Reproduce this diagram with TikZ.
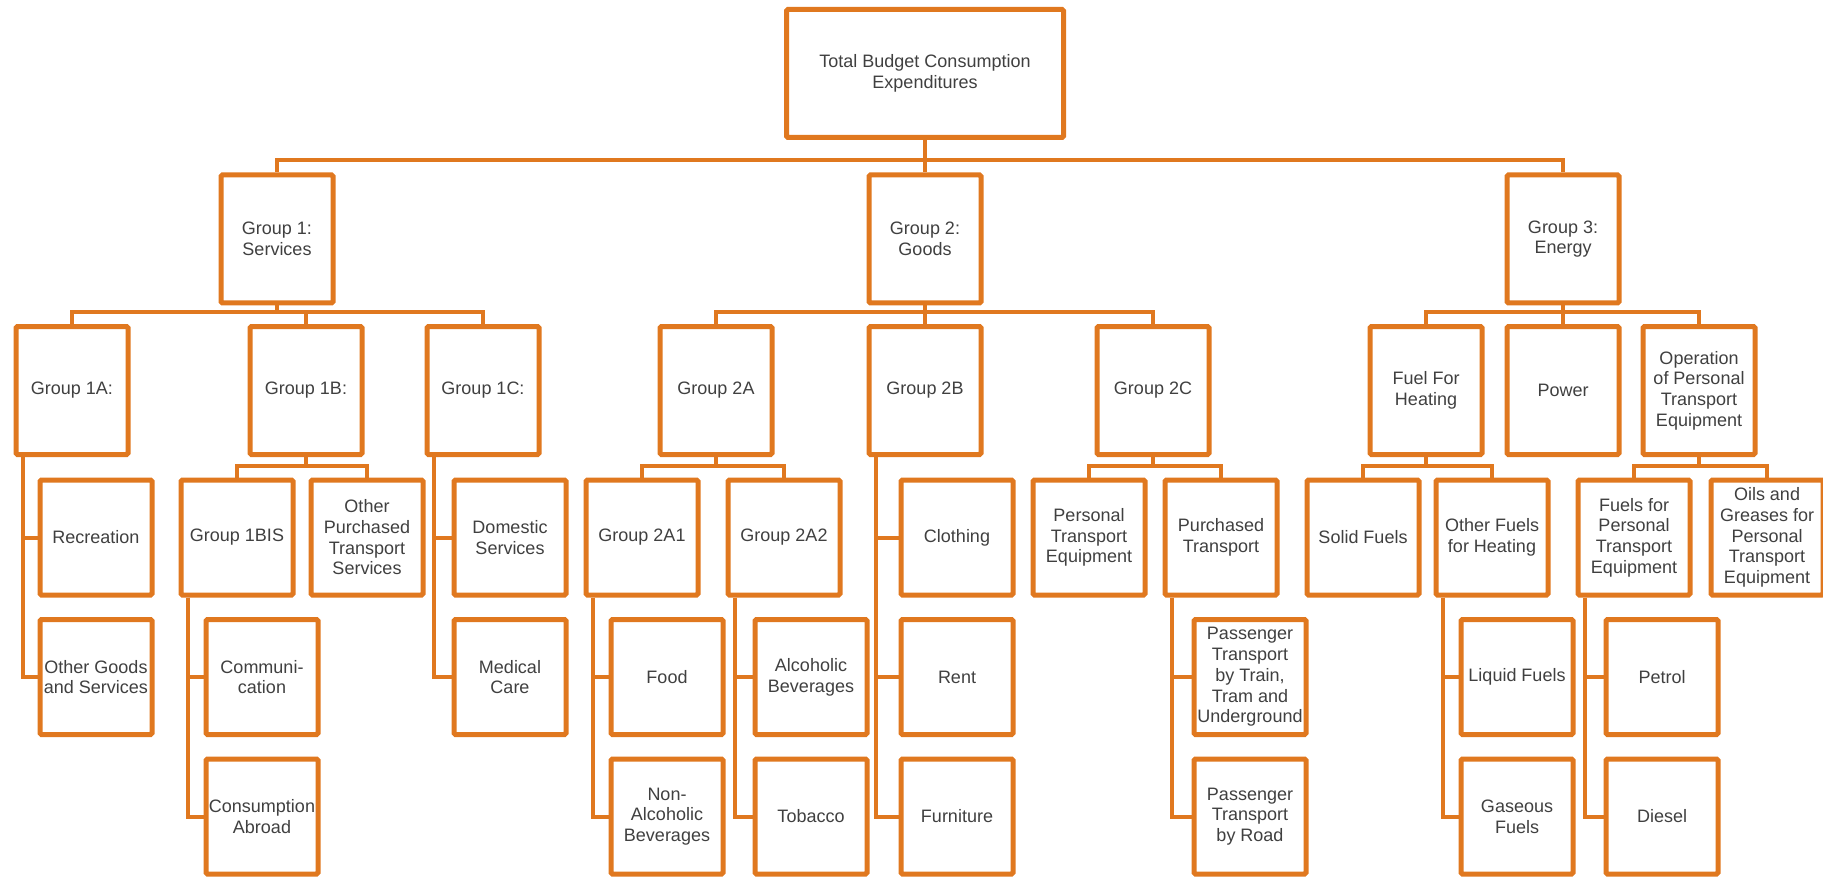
\documentclass[tikz,border=0pt]{standalone}
\usepackage{fontspec}
\setmainfont{Liberation Sans}
\usepackage{tikz}
\usetikzlibrary{calc}
\definecolor{BCOrange}{HTML}{E0781F}
\definecolor{BCText}{HTML}{404040}
\tikzset{
  link/.style={BCOrange,line width=4pt},
  box/.style={draw=BCOrange,line width=5pt,fill=white,rounded corners=1.5pt,
              minimum width=112pt,minimum height=128pt,inner sep=1pt,
              text=BCText,align=center,font=\fontsize{18}{20.7}\selectfont},
  boxlow/.style={box,minimum height=115pt},
  topbox/.style={box,minimum width=277pt},
}
\begin{document}
\begin{tikzpicture}[x=1pt,y=-1pt]
    \useasboundingbox (0,0) rectangle (1823,877);
    % top and groups
    \node[topbox] (top) at (925,73.5) {Total Budget Consumption\\Expenditures};
    \node[box] (g1) at (277,239) {Group 1:\\Services};
    \node[box] (g2) at (925,239) {Group 2:\\Goods};
    \node[box] (g3) at (1563,239) {Group 3:\\Energy};
    % subgroups
    \node[box] (g1a) at (72,390.5) {Group 1A:};
    \node[box] (g1b) at (306,390.5) {Group 1B:};
    \node[box] (g1c) at (483,390.5) {Group 1C:};
    \node[box] (g2a) at (716,390.5) {Group 2A};
    \node[box] (g2b) at (925,390.5) {Group 2B};
    \node[box] (g2c) at (1153,390.5) {Group 2C};
    \node[box] (heat) at (1426,390.5) {Fuel For\\Heating};
    \node[box] (power) at (1563,390.5) {Power};
    \node[box] (oper) at (1699,390.5) {Operation\\of Personal\\Transport\\Equipment};
    % third row
    \node[boxlow] (recr) at (96,537.5) {Recreation};
    \node[boxlow] (g1bis) at (237,537.5) {Group 1BIS};
    \node[boxlow] (opts) at (367,537.5) {Other\\Purchased\\Transport\\Services};
    \node[boxlow] (dom) at (510,537.5) {Domestic\\Services};
    \node[boxlow] (g2a1) at (642,537.5) {Group 2A1};
    \node[boxlow] (g2a2) at (784,537.5) {Group 2A2};
    \node[boxlow] (cloth) at (957,537.5) {Clothing};
    \node[boxlow] (pte) at (1089,537.5) {Personal\\Transport\\Equipment};
    \node[boxlow] (ptrans) at (1221,537.5) {Purchased\\Transport};
    \node[boxlow] (solid) at (1363,537.5) {Solid Fuels};
    \node[boxlow] (ofh) at (1492,537.5) {Other Fuels\\for Heating};
    \node[boxlow] (ffp) at (1634,537.5) {Fuels for\\Personal\\Transport\\Equipment};
    \node[boxlow] (oils) at (1767,537.5) {Oils and\\Greases for\\Personal\\Transport\\Equipment};
    % fourth row
    \node[boxlow] (ogs) at (96,677) {Other Goods\\and Services};
    \node[boxlow] (comm) at (262,677) {Communi-\\cation};
    \node[boxlow] (med) at (510,677) {Medical\\Care};
    \node[boxlow] (food) at (667,677) {Food};
    \node[boxlow] (alco) at (811,677) {Alcoholic\\Beverages};
    \node[boxlow] (rent) at (957,677) {Rent};
    \node[boxlow] (train) at (1250,677) {Passenger\\Transport\\by Train,\\Tram and\\Underground};
    \node[boxlow] (liquid) at (1517,677) {Liquid Fuels};
    \node[boxlow] (petrol) at (1662,677) {Petrol};
    % fifth row
    \node[boxlow] (abroad) at (262,816.5) {Consumption\\Abroad};
    \node[boxlow] (nonalc) at (667,816.5) {Non-\\Alcoholic\\Beverages};
    \node[boxlow] (tobac) at (811,816.5) {Tobacco};
    \node[boxlow] (furn) at (957,816.5) {Furniture};
    \node[boxlow] (road) at (1250,816.5) {Passenger\\Transport\\by Road};
    \node[boxlow] (gas) at (1517,816.5) {Gaseous\\Fuels};
    \node[boxlow] (diesel) at (1662,816.5) {Diesel};
    % buses
    \draw[link] (top.south) |- ([yshift=12pt]g1.north) -- (g1.north);
    \draw[link] (top.south) -- (g2.north);
    \draw[link] (top.south) |- ([yshift=12pt]g3.north) -- (g3.north);
    \draw[link] (g1.south) |- ([yshift=12pt]g1a.north) -- (g1a.north);
    \draw[link] (g1.south) |- ([yshift=12pt]g1b.north) -- (g1b.north);
    \draw[link] (g1.south) |- ([yshift=12pt]g1c.north) -- (g1c.north);
    \draw[link] (g2.south) |- ([yshift=12pt]g2a.north) -- (g2a.north);
    \draw[link] (g2.south) -- (g2b.north);
    \draw[link] (g2.south) |- ([yshift=12pt]g2c.north) -- (g2c.north);
    \draw[link] (g3.south) |- ([yshift=12pt]heat.north) -- (heat.north);
    \draw[link] (g3.south) -- (power.north);
    \draw[link] (g3.south) |- ([yshift=12pt]oper.north) -- (oper.north);
    \draw[link] (g1b.south) |- ([yshift=12pt]g1bis.north) -- (g1bis.north);
    \draw[link] (g1b.south) |- ([yshift=12pt]opts.north) -- (opts.north);
    \draw[link] (g2a.south) |- ([yshift=12pt]g2a1.north) -- (g2a1.north);
    \draw[link] (g2a.south) |- ([yshift=12pt]g2a2.north) -- (g2a2.north);
    \draw[link] (g2c.south) |- ([yshift=12pt]pte.north) -- (pte.north);
    \draw[link] (g2c.south) |- ([yshift=12pt]ptrans.north) -- (ptrans.north);
    \draw[link] (heat.south) |- ([yshift=12pt]solid.north) -- (solid.north);
    \draw[link] (heat.south) |- ([yshift=12pt]ofh.north) -- (ofh.north);
    \draw[link] (oper.south) |- ([yshift=12pt]ffp.north) -- (ffp.north);
    \draw[link] (oper.south) |- ([yshift=12pt]oils.north) -- (oils.north);
    % side lines
    \draw[link] ([xshift=9.5pt]g1a.south west) |- (recr.west);
    \draw[link] ([xshift=9.5pt]g1a.south west) |- (ogs.west);
    \draw[link] ([xshift=9.5pt]g1c.south west) |- (dom.west);
    \draw[link] ([xshift=9.5pt]g1c.south west) |- (med.west);
    \draw[link] ([xshift=9.5pt]g2b.south west) |- (cloth.west);
    \draw[link] ([xshift=9.5pt]g2b.south west) |- (rent.west);
    \draw[link] ([xshift=9.5pt]g2b.south west) |- (furn.west);
    \draw[link] ([xshift=9.5pt]g1bis.south west) |- (comm.west);
    \draw[link] ([xshift=9.5pt]g1bis.south west) |- (abroad.west);
    \draw[link] ([xshift=9.5pt]g2a1.south west) |- (food.west);
    \draw[link] ([xshift=9.5pt]g2a1.south west) |- (nonalc.west);
    \draw[link] ([xshift=9.5pt]g2a2.south west) |- (alco.west);
    \draw[link] ([xshift=9.5pt]g2a2.south west) |- (tobac.west);
    \draw[link] ([xshift=9.5pt]ptrans.south west) |- (train.west);
    \draw[link] ([xshift=9.5pt]ptrans.south west) |- (road.west);
    \draw[link] ([xshift=9.5pt]ofh.south west) |- (liquid.west);
    \draw[link] ([xshift=9.5pt]ofh.south west) |- (gas.west);
    \draw[link] ([xshift=9.5pt]ffp.south west) |- (petrol.west);
    \draw[link] ([xshift=9.5pt]ffp.south west) |- (diesel.west);
\end{tikzpicture}
\end{document}
